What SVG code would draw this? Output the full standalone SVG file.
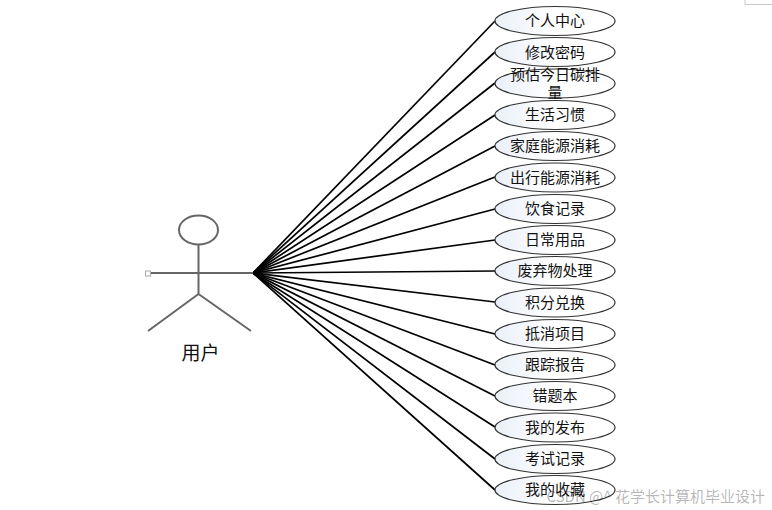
<svg xmlns="http://www.w3.org/2000/svg" width="772" height="510" viewBox="0 0 772 510">
<defs>
<linearGradient id="g" x1="0" y1="0.5" x2="1" y2="0.5"><stop offset="0" stop-color="#eaeff9"/><stop offset="0.5" stop-color="#ffffff"/></linearGradient>
</defs>
<style>
.u{fill:url(#g);stroke:#333;stroke-width:1.2}
.t{font-family:"Noto Sans CJK SC","Liberation Sans",sans-serif;font-size:15px;fill:#111;text-anchor:middle}
.c line{stroke:#000;stroke-width:1.7}
.a{stroke:#666;stroke-width:2;fill:none}
</style>
<rect width="772" height="510" fill="#fff"/>
<path d="M745 0V4.500H772" fill="none" stroke="#c8c8c8"/>
<g id="connectors" class="c">
<line x1="253" y1="273" x2="495" y2="21"/>
<line x1="253" y1="273" x2="495" y2="52"/>
<line x1="253" y1="273" x2="495" y2="83"/>
<line x1="253" y1="273" x2="495" y2="115"/>
<line x1="253" y1="273" x2="495" y2="146"/>
<line x1="253" y1="273" x2="495" y2="177"/>
<line x1="253" y1="273" x2="495" y2="209"/>
<line x1="253" y1="273" x2="495" y2="240"/>
<line x1="253" y1="273" x2="495" y2="271"/>
<line x1="253" y1="273" x2="495" y2="302"/>
<line x1="253" y1="273" x2="495" y2="334"/>
<line x1="253" y1="273" x2="495" y2="365"/>
<line x1="253" y1="273" x2="495" y2="396"/>
<line x1="253" y1="273" x2="495" y2="427"/>
<line x1="253" y1="273" x2="495" y2="459"/>
<line x1="253" y1="273" x2="495" y2="490"/>
</g>
<g id="actor">
<ellipse class="a" cx="198.500" cy="230" rx="19.500" ry="14.500"/>
<path class="a" d="M198.500 245V294M150 273H253M198.500 294L148 331M198.500 294L251 331"/>
<rect x="145.500" y="271" width="5" height="5" fill="#fff" stroke="#aaa"/>
<text class="t" x="200.500" y="360" style="font-size:19px">用户</text>
</g>
<g id="n1"><ellipse class="u" cx="555" cy="21" rx="60" ry="14.500"/><text class="t" x="555" y="26">个人中心</text></g>
<g id="n2"><ellipse class="u" cx="555" cy="52" rx="60" ry="14.500"/><text class="t" x="555" y="58">修改密码</text></g>
<g id="n3"><ellipse class="u" cx="555" cy="83.500" rx="60" ry="14.500"/><text class="t" x="555" y="80">预估今日碳排</text><text class="t" x="555" y="98">量</text></g>
<g id="n4"><ellipse class="u" cx="555" cy="115" rx="60" ry="14.500"/><text class="t" x="555" y="120">生活习惯</text></g>
<g id="n5"><ellipse class="u" cx="555" cy="146" rx="60" ry="14.500"/><text class="t" x="555" y="151">家庭能源消耗</text></g>
<g id="n6"><ellipse class="u" cx="555" cy="177.500" rx="60" ry="14.500"/><text class="t" x="555" y="183">出行能源消耗</text></g>
<g id="n7"><ellipse class="u" cx="555" cy="209" rx="60" ry="14.500"/><text class="t" x="555" y="214">饮食记录</text></g>
<g id="n8"><ellipse class="u" cx="555" cy="240" rx="60" ry="14.500"/><text class="t" x="555" y="245">日常用品</text></g>
<g id="n9"><ellipse class="u" cx="555" cy="271" rx="60" ry="14.500"/><text class="t" x="555" y="276">废弃物处理</text></g>
<g id="n10"><ellipse class="u" cx="555" cy="302.500" rx="60" ry="14.500"/><text class="t" x="555" y="308">积分兑换</text></g>
<g id="n11"><ellipse class="u" cx="555" cy="334" rx="60" ry="14.500"/><text class="t" x="555" y="339">抵消项目</text></g>
<g id="n12"><ellipse class="u" cx="555" cy="365" rx="60" ry="14.500"/><text class="t" x="555" y="370">跟踪报告</text></g>
<g id="n13"><ellipse class="u" cx="555" cy="396" rx="60" ry="14.500"/><text class="t" x="555" y="401">错题本</text></g>
<g id="n14"><ellipse class="u" cx="555" cy="427.500" rx="60" ry="14.500"/><text class="t" x="555" y="433">我的发布</text></g>
<g id="n15"><ellipse class="u" cx="555" cy="459" rx="60" ry="14.500"/><text class="t" x="555" y="464">考试记录</text></g>
<g id="n16"><ellipse class="u" cx="555" cy="490" rx="60" ry="14.500"/><text class="t" x="555" y="495">我的收藏</text></g>
<text x="765" y="502" style="font-family:'Noto Sans CJK SC',sans-serif;font-size:15px;text-anchor:end;fill:#000;fill-opacity:0.3">CSDN @^ 花学长计算机毕业设计</text>
</svg>
